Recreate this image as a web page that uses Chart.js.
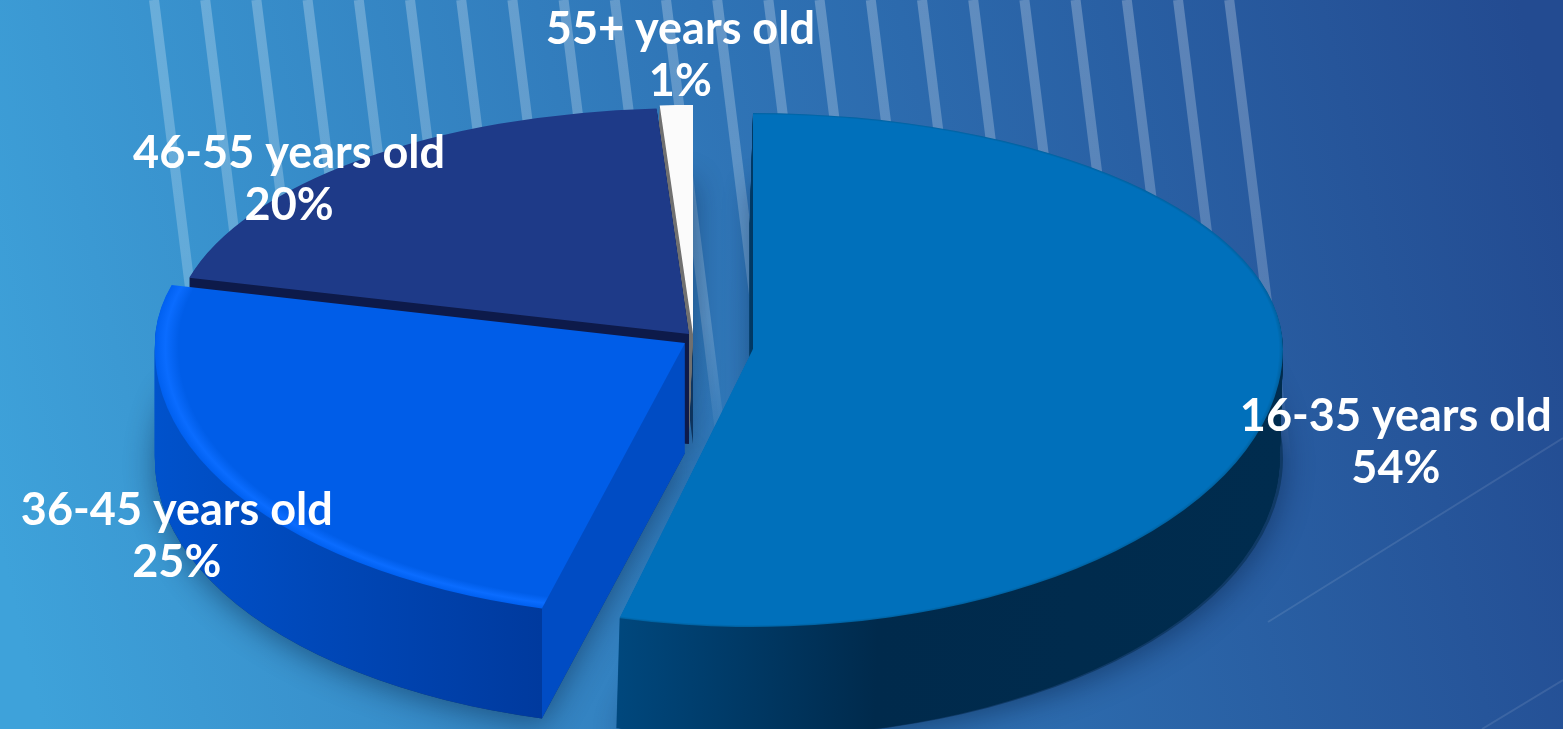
<!DOCTYPE html>
<html>
<head>
<meta charset="utf-8">
<style>
    html, body { margin: 0; padding: 0; background: #2d6fb0; overflow: hidden; }
    canvas { display: block; }
</style>
<script src="https://cdn.jsdelivr.net/npm/chart.js@4"></script>
</head>
<body>
<canvas id="chart-age" width="1563" height="729"></canvas>
<script>
// Age split, drawn as a tilted 3D pie. Slices stay Chart.js arcs, the plugin only projects them.
const AGE_LABELS = ["16-35 years old", "36-45 years old", "46-55 years old", "55+ years old"];
const AGE_SHARES = [54, 25, 20, 1];

const TOP_COLORS = ["#0070bb", "#005de8", "#1e3a88", "#fbfbfb"];
const WALL_OUTER = [["#00487e", "#002a4c"], ["#0052cc", "#003a9e"], ["#0d1a4a", "#0d1a4a"], ["#707070", "#707070"]];
const WALL_CUT = [null, "#004cc4", null, null];

// Screen shift of each slice away from the pie centre
const SHIFT_X = [65, -3, 1, 5];
const SHIFT_Y = [12, 6, -3, -3];

// Per slice projection, the original has real perspective so no single ellipse fits all four
const RX = [530, 530, 516, 530];
const RY_TOP = [236, 233, 226, 229];
const RY_BOTTOM = [278, 274, 268, 268];
const SHEAR = [-0.005, -0.032, 0, 0];
const WALL_LEAN = [-0.03, 0, 0, -0.04];

// Label centre relative to the slice's outer rim point
const LABEL_NUDGE_X = [117, -52, -71, 4];
const LABEL_NUDGE_Y = [56, 52, 17, -52];

const PIE = { x: 688, y: 337, depth: 110 };
const DRAW_ORDER = [3, 2, 1, 0];

function midAngle(arc) {
    return (arc.startAngle + arc.endAngle) / 2;
}

// Upper and lower half get their own y scale, this fakes the perspective of the original
function project(ctx, arc, i, half, extraX, extraY, clip) {
    const R = arc.outerRadius;
    const sx = RX[i] / R;
    const sy = (half === "top" ? RY_TOP[i] : RY_BOTTOM[i]) / R;
    const shear = half === "top" ? 0 : SHEAR[i];
    const ox = PIE.x + SHIFT_X[i] + extraX;
    const oy = PIE.y + SHIFT_Y[i] + extraY;
    ctx.transform(sx, 0, shear, sy, ox - arc.x * sx - arc.y * shear, oy - arc.y * sy);
    if (!clip) return;
    ctx.beginPath();
    if (half === "top") ctx.rect(arc.x - 2 * R, arc.y - 2 * R, 4 * R, 2 * R + 0.4);
    else ctx.rect(arc.x - 2 * R, arc.y, 4 * R, 2 * R);
    ctx.clip();
}

function drawArcWith(ctx, arc, i, fill, extraX, extraY, halves, clip = true) {
    const saved = arc.options;
    arc.options = Object.assign(Object.create(saved), { backgroundColor: fill });
    for (const half of halves) {
        ctx.save();
        project(ctx, arc, i, half, extraX, extraY, clip);
        arc.draw(ctx);
        ctx.restore();
    }
    arc.options = saved;
}

function wallFill(ctx, arc, i) {
    const R = arc.outerRadius;
    const g = ctx.createLinearGradient(arc.x - R, 0, arc.x + R, 0);
    const [c0, c1] = WALL_OUTER[i];
    if (WALL_CUT[i]) {
        // Cut face starts where the slice's first radius meets the rim
        const edge = 0.5 + Math.cos(arc.startAngle) / 2;
        g.addColorStop(0, c0);
        g.addColorStop(edge, c1);
        g.addColorStop(edge, WALL_CUT[i]);
        g.addColorStop(1, WALL_CUT[i]);
    } else if (i === 0) {
        g.addColorStop(0.37, c0);
        g.addColorStop(0.62, c1);
        g.addColorStop(1, "#002c4e");
    } else {
        g.addColorStop(0, c0);
        g.addColorStop(1, c1);
    }
    return g;
}

function topFill(ctx, arc, i) {
    const R = arc.outerRadius;
    const g = ctx.createRadialGradient(arc.x, arc.y, 0, arc.x, arc.y, R);
    g.addColorStop(0, TOP_COLORS[i]);
    if (i === 0) {
        g.addColorStop(0.992, TOP_COLORS[i]);
        g.addColorStop(1, "#00609e");
    } else if (i === 1) {
        g.addColorStop(0.955, TOP_COLORS[i]);
        g.addColorStop(0.98, "#0a6cff");
        g.addColorStop(1, "#0060f0");
    } else {
        g.addColorStop(1, TOP_COLORS[i]);
    }
    return g;
}

const backdropPlugin = {
    id: "backdrop",
    beforeDraw(chart) {
        const { ctx, width, height } = chart;
        ctx.save();
        const bg = ctx.createLinearGradient(0, height * 0.75, width, height * 0.25);
        bg.addColorStop(0, "#3ea2da");
        bg.addColorStop(0.5, "#2f74b6");
        bg.addColorStop(1, "#234b91");
        ctx.fillStyle = bg;
        ctx.fillRect(0, 0, width, height);

        // Slanted pale stripes behind the pie
        for (let k = 0; k < 22; k++) {
            const x0 = 154 + k * 51.2;
            const fade = ctx.createLinearGradient(0, 0, 0, 460);
            fade.addColorStop(0, "rgba(255,255,255,0.25)");
            fade.addColorStop(0.7, "rgba(255,255,255,0.2)");
            fade.addColorStop(1, "rgba(255,255,255,0)");
            ctx.beginPath();
            ctx.moveTo(x0, 0);
            ctx.lineTo(x0 + 460 * 0.125, 460);
            ctx.strokeStyle = fade;
            ctx.lineWidth = 10;
            ctx.stroke();
        }

        // Faint hairlines, bottom right
        ctx.strokeStyle = "rgba(255,255,255,0.1)";
        ctx.lineWidth = 2;
        ctx.beginPath();
        ctx.moveTo(1563, 438);
        ctx.lineTo(1268, 622);
        ctx.moveTo(1563, 680);
        ctx.lineTo(1482, 729);
        ctx.stroke();
        ctx.restore();
    },
};

const pie3dPlugin = {
    id: "pie3d",
    beforeDatasetsDraw(chart) {
        const { ctx } = chart;
        const arcs = chart.getDatasetMeta(0).data;

        // Soft shadow on the background, under everything else
        ctx.save();
        ctx.shadowColor = "rgba(0,20,50,0.45)";
        ctx.shadowBlur = 30;
        ctx.shadowOffsetY = 6;
        for (const i of DRAW_ORDER) drawArcWith(ctx, arcs[i], i, "#103a66", 0, PIE.depth, ["bottom"], false);
        ctx.restore();

        for (const i of DRAW_ORDER) {
            const fill = wallFill(ctx, arcs[i], i);
            for (let k = PIE.depth; k > 0; k--) {
                drawArcWith(ctx, arcs[i], i, fill, k * WALL_LEAN[i], k, ["top", "bottom"]);
            }
        }
        for (const i of DRAW_ORDER) {
            drawArcWith(ctx, arcs[i], i, topFill(ctx, arcs[i], i), 0, 0, ["top", "bottom"]);
        }
        return false; // arcs are already painted
    },
};

const labelPlugin = {
    id: "sliceLabels",
    afterDraw(chart) {
        const { ctx } = chart;
        const arcs = chart.getDatasetMeta(0).data;
        ctx.save();
        ctx.fillStyle = "#ffffff";
        ctx.font = "700 45px Lato, 'Open Sans', sans-serif";
        ctx.textAlign = "center";
        ctx.textBaseline = "alphabetic";
        arcs.forEach((arc, i) => {
            const a = midAngle(arc);
            const ry = Math.sin(a) < 0 ? RY_TOP[i] : RY_BOTTOM[i];
            const x = PIE.x + SHIFT_X[i] + Math.cos(a) * RX[i] + LABEL_NUDGE_X[i];
            const y = PIE.y + SHIFT_Y[i] + Math.sin(a) * ry + LABEL_NUDGE_Y[i];
            ctx.fillText(AGE_LABELS[i], x, y - 9);
            ctx.fillText(AGE_SHARES[i] + "%", x, y + 43);
        });
        ctx.restore();
    },
};

new Chart(document.getElementById("chart-age").getContext("2d"), {
    type: "pie",
    data: {
        labels: AGE_LABELS,
        datasets: [{ data: AGE_SHARES, backgroundColor: TOP_COLORS, borderWidth: 0 }],
    },
    options: {
        responsive: false,
        animation: false,
        rotation: 0,
        plugins: { legend: { display: false }, tooltip: { enabled: false } },
    },
    plugins: [backdropPlugin, pie3dPlugin, labelPlugin],
});
</script>
</body>
</html>
